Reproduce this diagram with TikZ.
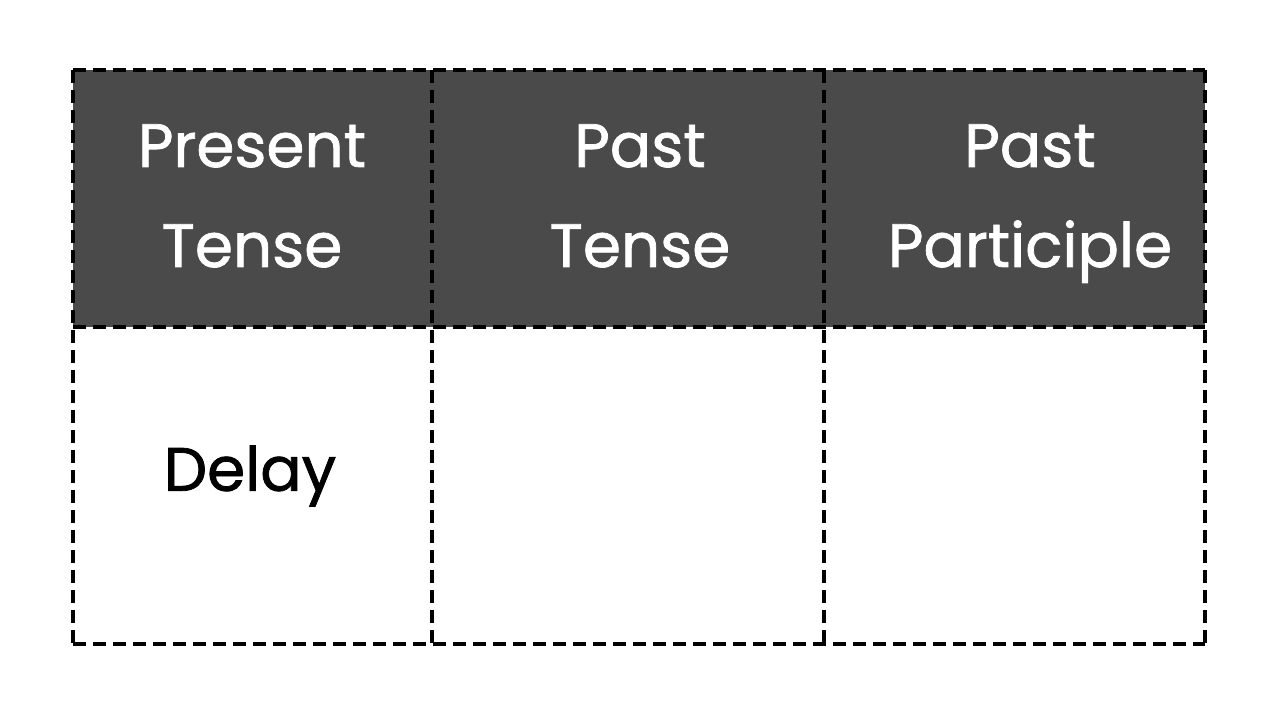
\documentclass[tikz,border=0pt]{standalone}
\usepackage{fontspec}
\setmainfont{Poppins}
\newfontfamily\cellfont{Poppins}[FakeBold=1.2]
\usepackage{tikz}
\definecolor{hdgray}{RGB}{74,74,74}

\tikzset{
	cellline/.style={line width=3pt, dash pattern=on 10pt off 5pt},
	hdtext/.style={text=white, align=center, font=\cellfont\fontsize{46}{75}\selectfont},
	bodytext/.style={text=black, align=center, font=\cellfont\fontsize{46}{75}\selectfont}
}

\begin{document}
\begin{tikzpicture}[x=0.75pt,y=0.75pt,yscale=-1,xscale=1]
		\useasboundingbox (0,0) rectangle (1280,720);
		
		%Shape: Rectangle [header fill]
		\fill[hdgray] (73,70) rectangle (1205,327) ;
		
		%Straight Lines [horizontal rules]
		\draw[cellline]   (73,70) -- (1205,70) ;
		\draw[cellline]   (73,327) -- (1205,327) ;
		\draw[cellline]   (73,644) -- (1205,644) ;
		%Straight Lines [vertical rules]
		\draw[cellline]   (73,70) -- (73,644) ;
		\draw[cellline]   (432,70) -- (432,644) ;
		\draw[cellline]   (824,70) -- (824,644) ;
		\draw[cellline]   (1205,70) -- (1205,644) ;
		
		% Text Node
		\draw (252,197) node [hdtext] (present) {Present\strut\\Tense\strut};
		% Text Node
		\draw (640,197) node [hdtext] (past) {Past\strut\\Tense\strut};
		% Text Node
		\draw (1030,197) node [hdtext] (participle) {Past\strut\\Participle\strut};
		% Text Node
		\draw (250,476) node [bodytext] (delay) {Delay};
		
\end{tikzpicture}
\end{document}
